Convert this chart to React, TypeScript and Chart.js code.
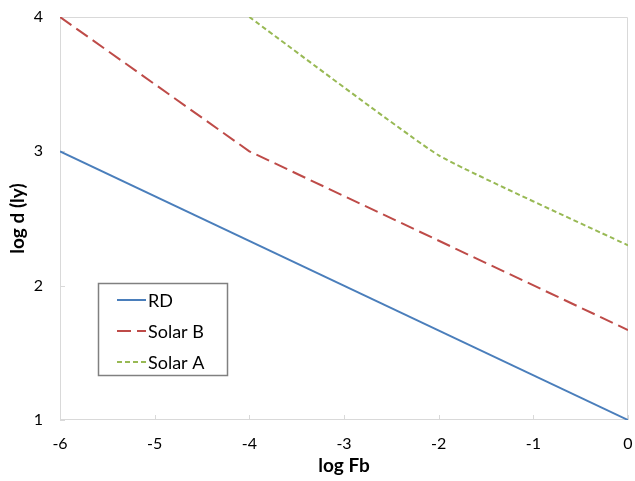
import React, { useEffect, useRef } from "react";
import { Chart, registerables } from "chart.js";

Chart.register(...registerables);

const seriesNames = ["RD", "Solar B", "Solar A"];
const rdX = [-6, 0];
const rdY = [3, 1];
const solarBX = [-6, -4, 0];
const solarBY = [4, 3, 1.67];
const solarAX = [-4, -2, 0];
const solarAY = [4, 2.97, 2.3];
const xTicks = [-6, -5, -4, -3, -2, -1, 0];
const yTicks = [1, 2, 3, 4];

const colors = ["#4a7ebb", "#be4b48", "#98b954"];
const dashes: number[][] = [[], [14, 6], [5, 3]];
const FONT = "Lato, 'Open Sans', sans-serif";

const toPts = (xs: number[], ys: number[]) => xs.map((x, i) => ({ x, y: ys[i] }));

export default function App() {
  const ref = useRef<HTMLCanvasElement | null>(null);
  useEffect(() => {
    if (!ref.current) return;
    const framePlugin = {
      id: "frame",
      beforeDatasetsDraw(chart: any) {
        const { ctx, chartArea: a, scales } = chart;
        ctx.save();
        ctx.strokeStyle = "#d9d9d9";
        ctx.lineWidth = 1;
        ctx.beginPath();
        ctx.moveTo(a.left + 0.5, a.top + 0.5);
        ctx.lineTo(a.right - 0.5, a.top + 0.5);
        ctx.lineTo(a.right - 0.5, a.bottom - 0.5);
        ctx.lineTo(a.left + 0.5, a.bottom - 0.5);
        ctx.closePath();
        ctx.stroke();
        ctx.beginPath();
        xTicks.forEach((t) => {
          const px = Math.round(scales.x.getPixelForValue(t)) + 0.5;
          ctx.moveTo(px, a.bottom);
          ctx.lineTo(px, a.bottom - 5);
        });
        yTicks.forEach((t) => {
          const py = Math.round(scales.y.getPixelForValue(t)) + 0.5;
          ctx.moveTo(a.left, py);
          ctx.lineTo(a.left + 5, py);
        });
        ctx.stroke();
        ctx.restore();
      },
      afterDatasetsDraw(chart: any) {
        const { ctx } = chart;
        ctx.save();
        ctx.fillStyle = "#ffffff";
        ctx.fillRect(98, 283, 130, 93);
        ctx.strokeStyle = "#808080";
        ctx.lineWidth = 1.5;
        ctx.strokeRect(98.5, 283.5, 129, 92);
        ctx.font = `18px ${FONT}`;
        ctx.textBaseline = "middle";
        ctx.fillStyle = "#000";
        seriesNames.forEach((name, i) => {
          const y = 300 + i * 31;
          ctx.strokeStyle = colors[i];
          ctx.lineWidth = 2;
          ctx.setLineDash(dashes[i]);
          ctx.beginPath();
          ctx.moveTo(117, y);
          ctx.lineTo(146, y);
          ctx.stroke();
          ctx.setLineDash([]);
          ctx.fillText(name, 148, y + 1);
        });
        ctx.restore();
      },
    };

    const chart = new Chart(ref.current, {
      type: "scatter",
      data: {
        datasets: [
          { label: seriesNames[0], data: toPts(rdX, rdY) },
          { label: seriesNames[1], data: toPts(solarBX, solarBY) },
          { label: seriesNames[2], data: toPts(solarAX, solarAY), tension: 0.12 },
        ].map((d, i) => ({
          ...d,
          showLine: true,
          borderColor: colors[i],
          backgroundColor: colors[i],
          borderWidth: 2,
          borderDash: dashes[i],
          pointRadius: 0,
          fill: false,
        })) as any,
      },
      options: {
        animation: false,
        responsive: false,
        maintainAspectRatio: false,
        layout: { padding: { top: 17, right: 7, left: 0, bottom: 0 } },
        plugins: { legend: { display: false }, tooltip: { enabled: false } },
        scales: {
          x: {
            type: "linear",
            min: -6,
            max: 0,
            afterBuildTicks: (s: any) => {
              s.ticks = xTicks.map((v) => ({ value: v }));
            },
            afterFit: (s: any) => {
              s.height = 61;
              s.paddingRight = 0;
              s.paddingLeft = 0;
            },
            grid: { display: false },
            border: { display: false },
            ticks: { color: "#000", font: { family: FONT, size: 16 }, padding: 6, maxRotation: 0 },
            title: { display: true, text: "log Fb", color: "#000", font: { family: FONT, size: 19, weight: "bold" }, padding: { top: 0 } },
          },
          y: {
            type: "linear",
            min: 1,
            max: 4,
            afterBuildTicks: (s: any) => {
              s.ticks = yTicks.map((v) => ({ value: v }));
            },
            afterFit: (s: any) => {
              s.width = 60;
              s.paddingTop = 0;
              s.paddingBottom = 0;
            },
            grid: { display: false },
            border: { display: false },
            ticks: { color: "#000", font: { family: FONT, size: 16 }, padding: 9 },
            title: { display: true, text: "log d (ly)", color: "#000", font: { family: FONT, size: 19, weight: "bold" }, padding: { top: 6, bottom: 4 } },
          },
        },
      } as any,
      plugins: [framePlugin],
    });
    return () => chart.destroy();
  }, []);

  return (
    <div style={{ position: "fixed", left: 0, top: 0, width: 635, height: 481, background: "#fff" }}>
      <canvas ref={ref} width={635} height={481} style={{ width: 635, height: 481, display: "block" }} />
    </div>
  );
}
